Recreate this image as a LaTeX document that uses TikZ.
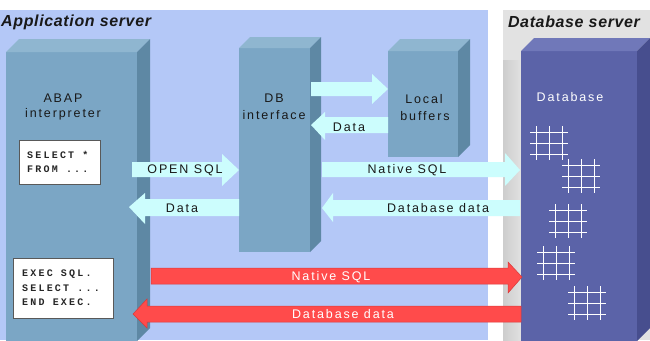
\documentclass[tikz,border=0pt]{standalone}
\usepackage{fontspec}
\setmainfont{Liberation Sans}
\newfontfamily\lblfont[LetterSpace=15]{Liberation Sans}
\newfontfamily\ttlfont[LetterSpace=4]{Liberation Sans}
\newfontfamily\codefnt[LetterSpace=22]{Liberation Mono}
\definecolor{appbg}{HTML}{B4C8F7}
\definecolor{dbbg}{HTML}{E2E2E2}
\definecolor{dbbgd}{HTML}{CDCDCD}
\definecolor{boxfront}{HTML}{7BA6C5}
\definecolor{boxtop}{HTML}{8FB6D0}
\definecolor{boxside}{HTML}{5E88A4}
\definecolor{dbfront}{HTML}{5B63A8}
\definecolor{dbtop}{HTML}{7078B9}
\definecolor{dbside}{HTML}{474E8E}
\definecolor{cyanarr}{HTML}{CCFDFD}
\definecolor{redarr}{HTML}{FF4B4B}
\definecolor{redarrd}{HTML}{D83A3A}
\newcommand\mycuboid[8]{%
  \fill[#6] (#1,#2) rectangle (#3,#4);
  \fill[#7] (#1,#2) -- ({#1+#5},{#2-#5}) -- ({#3+#5},{#2-#5}) -- (#3,#2) -- cycle;
  \fill[#8] (#3,#2) -- ({#3+#5},{#2-#5}) -- ({#3+#5},{#4-#5}) -- (#3,#4) -- cycle;}
\newcommand\blockarrow[9]{%
  \path[#1] (#2,#3) -- (#5,#3) -- (#5,#6) -- (#7,#8) -- (#5,#9) -- (#5,#4) -- (#2,#4) -- cycle;}
\begin{document}
\begin{tikzpicture}[x=1pt,y=-1pt,
  lbl/.style={font=\lblfont\fontsize{12.5}{14}\selectfont, text=black!90, inner sep=0pt, align=center},
  wlbl/.style={lbl, text=white},
  ttl/.style={font=\ttlfont\bfseries\itshape\fontsize{16}{18}\selectfont, text=black!90, inner sep=0pt},
  code/.style={font=\codefnt\bfseries\fontsize{10}{14.4}\selectfont, text=black!85, inner sep=0pt, align=left, anchor=north west},
  codebox/.style={fill=white, draw=black!65, line width=0.6pt},
  cyanstyle/.style={fill=cyanarr},
  redstyle/.style={fill=redarr, draw=redarrd, line width=0.5pt}]
\useasboundingbox (0,0) rectangle (650,340);
\fill[white] (0,0) rectangle (650,340);
% panels
\fill[appbg] (0,10) rectangle (488,340);
\fill[dbbg] (503,10) rectangle (650,340);
\shade[left color=dbbgd, right color=dbbg] (503,60) rectangle (522,340);
\node[ttl, anchor=west] (apptitle) at (1,22) {Application server};
\node[ttl] (dbtitle) at (574,22) {Database server};
% boxes
\mycuboid{6}{52}{137}{341}{13}{boxfront}{boxtop}{boxside}
\mycuboid{239}{48}{310}{252}{11}{boxfront}{boxtop}{boxside}
\mycuboid{388}{51}{458}{157}{12}{boxfront}{boxtop}{boxside}
\mycuboid{521}{51}{637}{341}{13}{dbfront}{dbtop}{dbside}
% grids
\foreach \gx/\gy [count=\i] in {530/126, 562/159, 549/204, 537/246, 568/286}{
  \draw[white, line width=0.9pt]
    (\gx+6,\gy) -- (\gx+6,\gy+34)
    (\gx+19,\gy) -- (\gx+19,\gy+34)
    (\gx+32,\gy) -- (\gx+32,\gy+34)
    (\gx,\gy+6) -- (\gx+38,\gy+6)
    (\gx,\gy+17) -- (\gx+38,\gy+17)
    (\gx,\gy+28) -- (\gx+38,\gy+28);
}
% box labels
\node[lbl] (abap) at (63,98) {ABAP};
\node[lbl] (interp) at (63,114) {interpreter};
\node[lbl] (db) at (274,98) {DB};
\node[lbl] (dbif) at (274,115) {interface};
\node[lbl] (local) at (424,99) {Local};
\node[lbl] (buff) at (425,116) {buffers};
\node[wlbl] (database) at (570,97) {Database};
% code boxes
\draw[codebox] (19,140) rectangle (100,184);
\node[code] (code1) at (27,151) {SELECT *\\FROM ...};
\draw[codebox] (13,258) rectangle (113,318);
\node[code] (code2) at (22,270) {EXEC SQL.\\SELECT ...\\END EXEC.};
% cyan arrows
\blockarrow{cyanstyle}{311}{82}{96}{372}{74}{388}{89}{104}
\blockarrow{cyanstyle}{388}{117}{133}{325}{112}{311}{125}{140}
\blockarrow{cyanstyle}{132}{162}{177}{222}{154}{239}{170}{186}
\blockarrow{cyanstyle}{239}{199}{216}{145}{193}{129}{207}{224}
\blockarrow{cyanstyle}{322}{162}{177}{505}{153}{520}{170}{186}
\blockarrow{cyanstyle}{520}{200}{216}{333}{193}{322}{208}{222}
% red arrows
\blockarrow{redstyle}{151}{268}{284}{508}{262}{522}{277}{293}
\blockarrow{redstyle}{521}{306}{322}{147}{299}{133}{314}{328}
% arrow labels
\node[lbl] (ldata1) at (349,127) {Data};
\node[lbl] (lopen) at (185,170) {OPEN SQL};
\node[lbl] (ldata2) at (182,208) {Data};
\node[lbl] (lnative) at (407,170) {Native SQL};
\node[lbl] (ldbdata) at (438,208) {Database data};
\node[wlbl] (rnative) at (331,277) {Native SQL};
\node[wlbl] (rdbdata) at (343,314) {Database data};
\end{tikzpicture}
\end{document}
